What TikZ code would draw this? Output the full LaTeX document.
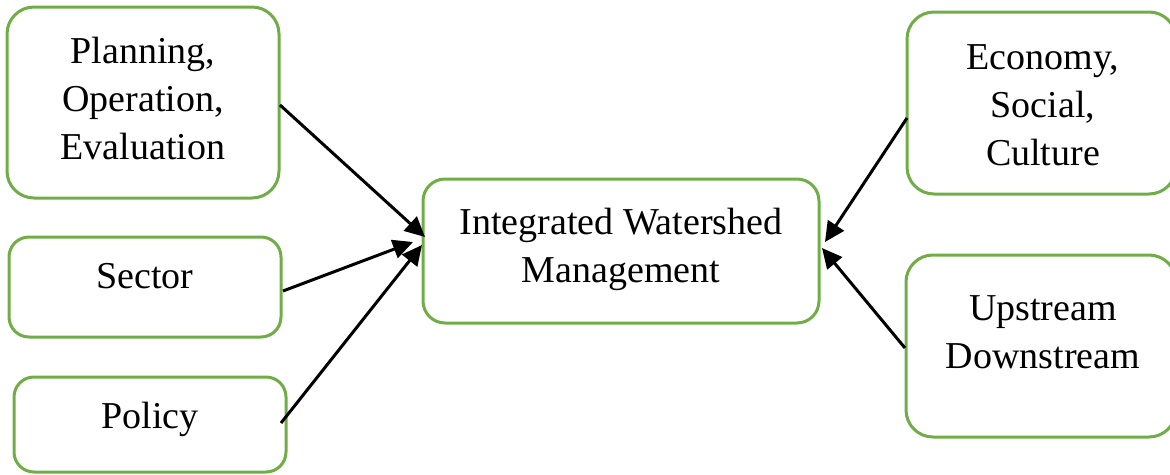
\documentclass[tikz,border=0pt]{standalone}
\usepackage{fontspec}
\setmainfont{Liberation Serif}
\usetikzlibrary{arrows.meta,calc}
\definecolor{boxgreen}{HTML}{70AD47}
\begin{document}
\begin{tikzpicture}[x=1pt,y=-1pt,
  box/.style={draw=boxgreen, line width=3pt, rounded corners=#1, outer sep=0pt, inner sep=0pt},
  box/.default=22pt,
  boxtext/.style={anchor=north, inner sep=0pt, align=center, font=\fontsize{38}{48}\selectfont},
  link/.style={line width=3pt, -{Triangle[length=20pt,width=19pt]}}]
\useasboundingbox (0,0) rectangle (1170,474);

% outlines of the six boxes
\node[box=27pt, minimum width=272, minimum height=191] (b1) at (143,102.5) {};
\node[box=20pt, minimum width=272, minimum height=100] (b2) at (145,287) {};
\node[box=20pt, minimum width=272, minimum height=95]  (b3) at (150,424.5) {};
\node[box=22pt, minimum width=396, minimum height=144] (bc) at (621,251) {};
\node[box=27pt, minimum width=269, minimum height=182] (r1) at (1041.5,103) {};
\node[box=27pt, minimum width=270, minimum height=182] (r2) at (1041,346) {};

% texts inside the boxes
\node[boxtext] (t1) at ($(b1.north)+(0,22.4)$) {\strut Planning,\\Operation,\\Evaluation};
\node[boxtext] (t2) at ($(b2.north)+(0,17.4)$) {\strut Sector};
\node[boxtext] (t3) at ($(b3.north)+(0,17.4)$) {\strut Policy};
\node[boxtext] (tc) at ($(bc.north)+(0,21.4)$) {\strut Integrated Watershed\\Management};
\node[boxtext] (tr1) at ($(r1.north)+(1.5,23.4)$) {\strut Economy,\\Social,\\Culture};
\node[boxtext] (tr2) at ($(r2.north)+(2,31.4)$) {\strut Upstream\\Downstream};

% influences pointing at the central box
\draw[link] ($(b1.east)+(1,2.5)$) -- ($(bc.west)+(2,-14)$);
\draw[link] ($(b2.east)+(2,4)$) -- ($(bc.west)+(-10,-9)$);
\draw[link] ($(b3.east)+(-5,-1.5)$) -- ($(bc.west)+(-1,-6)$);
\draw[link] ($(r1.west)+(0,15)$) -- ($(bc.east)+(6,-9)$);
\draw[link] ($(r2.west)+(-1,2)$) -- ($(bc.east)+(3,-3)$);
\end{tikzpicture}
\end{document}
